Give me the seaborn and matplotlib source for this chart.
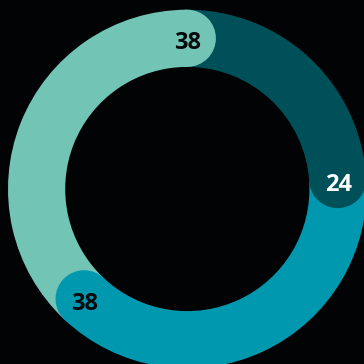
import numpy as np
import matplotlib
matplotlib.use("Agg")
import matplotlib.pyplot as plt
import matplotlib.transforms as mtransforms
import seaborn as sns
from matplotlib.patches import Circle

categories = ["B", "C", "A"]
values = [24, 38, 38]
colors = ["#00505A", "#0098AE", "#72C4B5"]
label_colors = ["#FFFFFF", "#050A0C", "#050A0C"]

sns.set_theme(style="dark")
plt.rcParams['font.family'] = ['Open Sans', 'Noto Sans', 'DejaVu Sans']

bg = "#010304"
fig = plt.figure(figsize=(3.64, 3.64), dpi=100, facecolor=bg)
ax = fig.add_axes([0, 0, 1, 1])
ax.set_facecolor(bg)

R = 1.0
width = 0.319
scale = 179.3
cx, cy = 187.3, 189.0

ax.pie(values, colors=colors, startangle=90, counterclock=False, radius=R,
       wedgeprops=dict(width=width, linewidth=0), center=(0, 0))

rm = R - width / 2
total = sum(values)
cum = np.cumsum(values)
for v, c in zip(cum, colors):
    th = np.deg2rad(v / total * 360.0)
    x, y = rm * np.sin(th), rm * np.cos(th)
    ax.add_patch(Circle((x, y), width / 2, color=c, lw=0, zorder=5))

shift = mtransforms.offset_copy(ax.transData, fig=fig, x=0.5, y=-2.0, units="dots")
for v0, v, tc in zip(cum, values, label_colors):
    th = np.deg2rad(v0 / total * 360.0)
    x, y = rm * np.sin(th), rm * np.cos(th)
    ax.text(x, y, str(v), ha="center", va="center_baseline", color=tc,
            fontsize=17, fontweight="bold", zorder=6, transform=shift)

ax.set_xlim(-cx / scale, (364 - cx) / scale)
ax.set_ylim(-(364 - cy) / scale, cy / scale)
ax.set_aspect("auto")
ax.axis("off")
fig.savefig("out.png", dpi=100, facecolor=bg)
